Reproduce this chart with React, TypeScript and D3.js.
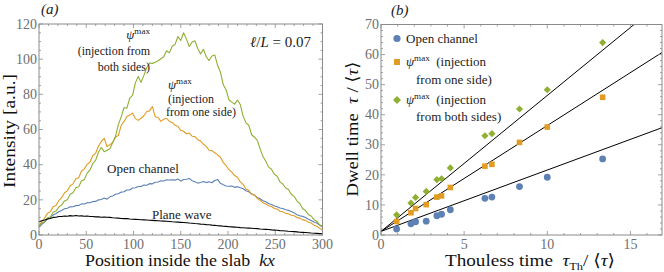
import { useRef, useEffect } from 'react';
import * as d3 from 'd3';

// panel (a): intensity profiles sampled every 3 units of kx (0..300)
const KX_STEP = 3;
const psiBothSides = [
  5, 6.8, 7.6, 9.8, 10.2, 12.9, 13.6, 15.9, 17.1, 19.4,
  20.1, 23.2, 24, 26.9, 27.4, 30.9, 31.5, 35.2, 37, 40.8,
  42.6, 47.2, 49.8, 47.4, 48.2, 49, 52.6, 56.2, 62.8, 67.2,
  72.5, 72.1, 77.8, 79.4, 86.5, 90.2, 86.8, 90.8, 95.2, 97.8,
  97.6, 98.2, 99.1, 100.2, 101.4, 104.8, 103.6, 107.5, 108.4, 112.9,
  110.6, 115, 111.4, 107.2, 109.8, 110.4, 106.1, 103, 105.6, 101.4,
  99.2, 101.8, 102.4, 96.5, 92.6, 85.4, 82.6, 76.9, 75.6, 74.4,
  76.8, 74.2, 67.6, 63.8, 62.4, 57, 55.6, 53.8, 49, 44.6,
  41.9, 38.6, 37.4, 34.6, 33.4, 30.2, 29, 26.7, 25.9, 23.2,
  22, 19.3, 17.9, 15.1, 13.9, 11.7, 10.8, 8.7, 7.8, 5.8,
  4.7,
];
const psiOneSide = [
  5, 7.8, 9.6, 12.4, 13.2, 16, 16.8, 19.6, 21.2, 24,
  25.1, 28, 29.1, 32, 32.6, 36.4, 37.6, 40.2, 41.5, 45.2,
  46.6, 50.6, 53.2, 55, 50.2, 51.4, 52.6, 55.8, 56.6, 62.4,
  64.6, 67.4, 68.2, 69.4, 66.2, 65.2, 66.4, 67.8, 70.2, 70.6,
  73, 67.2, 66.8, 64.6, 65.8, 66.4, 64.6, 64, 62.4, 61.8,
  59.6, 59, 57.6, 58, 56.2, 56, 54.2, 53.4, 51.6, 50.4,
  48.2, 48, 46.8, 45.6, 44.2, 41.2, 39.4, 37.2, 35.8, 33.8,
  32.8, 30.2, 28.8, 26.2, 25.4, 23.2, 22.8, 20.8, 19.8, 18.3,
  17.6, 16.6, 16.2, 15.1, 14.7, 13.5, 13.2, 12.3, 12.1, 11.2,
  10.9, 9.9, 9.6, 8.6, 8.3, 7.2, 6.8, 5.6, 5, 3.8,
  3,
];
const openChannel = [
  4.5, 6.1, 7.4, 9.1, 9.9, 11.4, 12.2, 13.2, 13.9, 14.9,
  15.2, 16, 16.1, 16.7, 16.8, 17.7, 17.6, 18.4, 18.3, 19,
  19.1, 20, 20.2, 21, 20.4, 21.7, 22.2, 23.2, 23.5, 24.4,
  24.6, 25.6, 25.6, 26.7, 26.9, 27.6, 27.6, 28.4, 28.3, 29.2,
  29.1, 30, 30.1, 30.8, 30.7, 31.4, 31.3, 31.4, 31.2, 31.9,
  30.6, 31.6, 31.7, 32.1, 30.9, 30.3, 29.5, 29.9, 30.4, 29.8,
  30.3, 29.7, 31, 31.6, 29.4, 28.6, 27.9, 27.7, 27.9, 27.1,
  27.5, 26.9, 26.3, 25.2, 24.6, 23.4, 22.6, 21.4, 20.6, 19.5,
  18.9, 17.9, 17.3, 16.5, 16.1, 15.4, 15.1, 14.4, 14, 13.3,
  12.6, 11.5, 10.9, 10.6, 9.9, 9, 8.3, 7.4, 6.8, 5.6,
  4.5,
];
const planeWave = [
  7.5, 8.1, 8.5, 9.1, 9.4, 10, 10.1, 10.5, 10.5, 10.8,
  10.7, 11, 10.8, 11.1, 10.8, 10.9, 10.7, 10.8, 10.5, 10.5,
  10.3, 10.3, 10.1, 10.2, 10.1, 10, 9.8, 9.7, 9.6, 9.4,
  9.3, 9.3, 9.1, 9, 8.9, 8.8, 8.7, 8.6, 8.5, 8.4,
  8.3, 8.2, 8.1, 8, 7.9, 7.8, 7.7, 7.5, 7.4, 7.3,
  7.2, 7.1, 7, 6.8, 6.7, 6.5, 6.4, 6.2, 6.1, 5.9,
  5.8, 5.6, 5.5, 5.3, 5.2, 5, 4.9, 4.7, 4.6, 4.5,
  4.4, 4.2, 4.1, 4, 3.9, 3.8, 3.7, 3.6, 3.4, 3.3,
  3.2, 3.1, 2.9, 2.8, 2.7, 2.5, 2.4, 2.3, 2.1, 2,
  1.9, 1.8, 1.6, 1.5, 1.4, 1.3, 1.1, 1, 0.9, 0.8,
  0.7,
];

// panel (b): dwell time vs Thouless time
const tauTh = [0.94, 1.8, 2.08, 2.72, 3.36, 3.64, 4.17, 6.25, 6.67, 8.33, 10, 13.33];
const dwellOpen = [2.0, 3.7, 4.4, 4.6, 6.4, 6.9, 8.4, 12.2, 12.6, 16.1, 19.2, 25.3];
const dwellOneSide = [4.5, 7.4, 8.8, 10.1, 12.6, 13.0, 15.8, 22.9, 23.5, 30.8, 35.9, 45.8];
const dwellBothSides = [6.7, 10.6, 12.5, 14.5, 18.4, 18.7, 22.3, 33.0, 33.7, 41.9, 48.3, 64.0];
const fitSlopes = [2.04, 3.52, 4.52];
const fitIntercept = 1.2;

const xTicksA = [0, 50, 100, 150, 200, 250, 300];
const yTicksA = [0, 20, 40, 60, 80, 100, 120];
const xTicksB = [0, 5, 10, 15];
const yTicksB = [0, 10, 20, 30, 40, 50, 60, 70];

const BLUE = '#5e81b5';
const ORANGE = '#e19c24';
const GREEN = '#8fb032';
const FRAME = '#8a8a8a';
const TICK_TEXT = '#6e6e6e';
const FONT = 'Liberation Serif, DejaVu Serif, serif';

type G = d3.Selection<SVGGElement, unknown, null, undefined>;

function drawFrame(g: G, x: d3.ScaleLinear<number, number>, y: d3.ScaleLinear<number, number>,
  xMajor: number[], xMinor: number, yMajor: number[], yMinor: number) {
  const [x0, x1] = x.range();
  const [y0, y1] = y.range();
  const [dx0, dx1] = x.domain();
  const [dy0, dy1] = y.domain();
  const t = g.append('g').attr('stroke', FRAME).attr('stroke-width', 0.8);
  d3.range(dx0, dx1 + 1e-6, xMinor).forEach(v => {
    const len = xMajor.some(m => Math.abs(m - v) < 1e-6) ? 4 : 2;
    t.append('line').attr('x1', x(v)).attr('x2', x(v)).attr('y1', y0).attr('y2', y0 - len);
    t.append('line').attr('x1', x(v)).attr('x2', x(v)).attr('y1', y1).attr('y2', y1 + len);
  });
  d3.range(dy0, dy1 + 1e-6, yMinor).forEach(v => {
    const len = yMajor.some(m => Math.abs(m - v) < 1e-6) ? 4 : 2;
    t.append('line').attr('y1', y(v)).attr('y2', y(v)).attr('x1', x0).attr('x2', x0 + len);
    t.append('line').attr('y1', y(v)).attr('y2', y(v)).attr('x1', x1).attr('x2', x1 - len);
  });
  g.append('rect').attr('x', x0).attr('y', y1).attr('width', x1 - x0).attr('height', y0 - y1)
    .attr('fill', 'none').attr('stroke', FRAME).attr('stroke-width', 1);

  xMajor.forEach(v => {
    g.append('text').attr('x', x(v)).attr('y', y0 + 14).attr('text-anchor', 'middle')
      .attr('font-family', FONT).attr('font-size', 14).attr('fill', TICK_TEXT).text(v);
  });
  yMajor.forEach(v => {
    g.append('text').attr('x', x0 - 2).attr('y', y(v) + 4.7).attr('text-anchor', 'end')
      .attr('font-family', FONT).attr('font-size', 14).attr('fill', TICK_TEXT).text(v);
  });
}

function psiMax(g: G, x: number, y: number, size: number, anchor: string, rest?: string) {
  const t = g.append('text').attr('x', x).attr('y', y).attr('text-anchor', anchor)
    .attr('font-family', FONT).attr('font-size', size).attr('fill', '#222');
  t.append('tspan').attr('font-style', 'italic').text('ψ');
  t.append('tspan').attr('font-size', size * 0.7).attr('dy', -size * 0.4).text('max');
  if (rest) t.append('tspan').attr('dy', size * 0.4).text(rest);
  return t;
}

function label(g: G, x: number, y: number, size: number, s: string, anchor = 'start') {
  return g.append('text').attr('x', x).attr('y', y).attr('text-anchor', anchor)
    .attr('font-family', FONT).attr('font-size', size).attr('fill', '#222').text(s);
}

export default function App() {
  const svgRef = useRef<SVGSVGElement>(null);

  useEffect(() => {
    const svg = svgRef.current;
    if (!svg) return;
    const root = d3.select(svg);
    root.selectAll('*').remove();
    const g = root.append('g') as unknown as G;

    // ---------- panel (a) ----------
    const xA = d3.scaleLinear().domain([0, 300]).range([39, 322.5]);
    const yA = d3.scaleLinear().domain([0, 120]).range([235, 24]);

    const line = d3.line<number>().x((_, i) => xA(i * KX_STEP)).y(d => yA(d));
    ([[openChannel, BLUE], [psiOneSide, ORANGE], [psiBothSides, GREEN], [planeWave, '#000']] as [number[], string][])
      .forEach(([vals, c]) => {
        g.append('path').attr('d', line(vals)).attr('fill', 'none').attr('stroke', c)
          .attr('stroke-width', 1.1).attr('stroke-linejoin', 'round');
      });

    drawFrame(g, xA, yA, xTicksA, 10, yTicksA, 5);

    label(g, 41, 14, 15, '').attr('font-style', 'italic').text('(a)');

    // annotations
    psiMax(g, 150, 39, 13, 'end');
    label(g, 150, 55, 12, '(injection from', 'end');
    label(g, 150, 71, 12, 'both sides)', 'end');
    psiMax(g, 168, 89, 13, 'start');
    label(g, 168, 103, 12, '(injection');
    label(g, 166, 116, 12, 'from one side)');
    label(g, 107, 173, 13, 'Open channel');
    label(g, 152, 219, 13, 'Plane wave');

    const ell = g.append('text').attr('x', 250).attr('y', 47).attr('font-family', FONT)
      .attr('font-size', 15).attr('fill', '#222');
    ell.append('tspan').attr('font-style', 'italic').text('ℓ');
    ell.append('tspan').text('/');
    ell.append('tspan').attr('font-style', 'italic').text('L');
    ell.append('tspan').text(' = 0.07');

    const xTitleA = g.append('text').attr('x', 85).attr('y', 266).attr('font-family', FONT)
      .attr('font-size', 17).attr('fill', '#111').attr('textLength', 190).attr('lengthAdjust', 'spacingAndGlyphs');
    xTitleA.append('tspan').text('Position inside the slab\u2002');
    xTitleA.append('tspan').attr('font-style', 'italic').text('kx');

    g.append('text').attr('transform', 'translate(15,131) rotate(-90)').attr('text-anchor', 'middle')
      .attr('font-family', FONT).attr('font-size', 17).attr('fill', '#111')
      .attr('textLength', 114).attr('lengthAdjust', 'spacingAndGlyphs').text('Intensity [a.u.]');

    // ---------- panel (b) ----------
    const xB = d3.scaleLinear().domain([0, 16.9]).range([381, 662]);
    const yB = d3.scaleLinear().domain([0, 70]).range([235, 24.5]);

    const clipId = 'clipB';
    root.append('defs').append('clipPath').attr('id', clipId).append('rect')
      .attr('x', 381).attr('y', 24.5).attr('width', 281).attr('height', 210.5);

    const fitG = g.append('g').attr('clip-path', `url(#${clipId})`);
    fitSlopes.forEach(s => {
      fitG.append('line').attr('x1', xB(0)).attr('y1', yB(fitIntercept))
        .attr('x2', xB(16.9)).attr('y2', yB(fitIntercept + s * 16.9))
        .attr('stroke', '#000').attr('stroke-width', 1);
    });

    tauTh.forEach((t, i) => {
      g.append('circle').attr('cx', xB(t)).attr('cy', yB(dwellOpen[i])).attr('r', 3.4).attr('fill', BLUE);
      g.append('rect').attr('x', xB(t) - 2.8).attr('y', yB(dwellOneSide[i]) - 2.8)
        .attr('width', 5.6).attr('height', 5.6).attr('fill', ORANGE);
      const cx = xB(t), cy = yB(dwellBothSides[i]);
      g.append('path').attr('d', `M${cx},${cy - 3.6}L${cx + 3.6},${cy}L${cx},${cy + 3.6}L${cx - 3.6},${cy}Z`)
        .attr('fill', GREEN);
    });

    drawFrame(g, xB, yB, xTicksB, 1, yTicksB, 2);

    label(g, 391, 15, 15, '').attr('font-style', 'italic').text('(b)');

    // legend
    g.append('circle').attr('cx', 397).attr('cy', 38.5).attr('r', 3.6).attr('fill', BLUE);
    label(g, 406, 43, 13, 'Open channel');
    g.append('rect').attr('x', 394).attr('y', 59).attr('width', 6).attr('height', 6).attr('fill', ORANGE);
    psiMax(g, 406, 66, 13, 'start', '\u2002(injection');
    label(g, 416, 84, 13, 'from one side)');
    g.append('path').attr('d', 'M397,96L401,100L397,104L393,100Z').attr('fill', GREEN);
    psiMax(g, 406, 104, 13, 'start', '\u2002(injection');
    label(g, 416, 121, 13, 'from both sides)');

    const xTitleB = g.append('text').attr('x', 445).attr('y', 266).attr('font-family', FONT)
      .attr('font-size', 17).attr('fill', '#111').attr('textLength', 170).attr('lengthAdjust', 'spacingAndGlyphs');
    xTitleB.append('tspan').text('Thouless time\u2002');
    xTitleB.append('tspan').attr('font-style', 'italic').text('τ');
    xTitleB.append('tspan').attr('font-size', 11).attr('dy', 4).text('Th');
    xTitleB.append('tspan').attr('dy', -4).text('/ ⟨');
    xTitleB.append('tspan').attr('font-style', 'italic').text('τ');
    xTitleB.append('tspan').text('⟩');

    const yTitleB = g.append('text').attr('transform', 'translate(358,129) rotate(-90)').attr('text-anchor', 'middle')
      .attr('font-family', FONT).attr('font-size', 17).attr('fill', '#111')
      .attr('textLength', 135).attr('lengthAdjust', 'spacingAndGlyphs');
    yTitleB.append('tspan').text('Dwell time\u2002');
    yTitleB.append('tspan').attr('font-style', 'italic').text('τ');
    yTitleB.append('tspan').text(' / ⟨');
    yTitleB.append('tspan').attr('font-style', 'italic').text('τ');
    yTitleB.append('tspan').text('⟩');
  }, []);

  return (
    <svg ref={svgRef} width={664} height={272} viewBox="0 0 664 272"
      style={{ position: 'absolute', left: 0, top: 0, display: 'block', background: '#fff' }} />
  );
}
